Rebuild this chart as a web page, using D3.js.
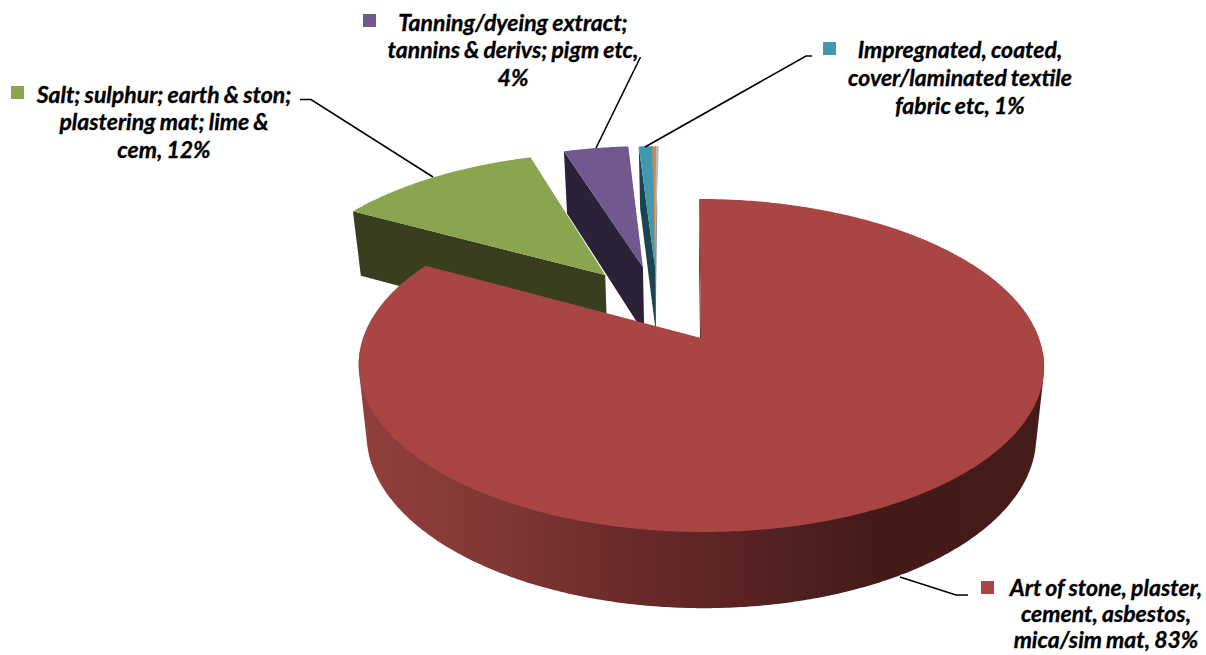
<!DOCTYPE html>
<html><head><meta charset="utf-8">
<script src="https://cdn.jsdelivr.net/npm/d3@7"></script>
<style>html,body{margin:0;padding:0;background:#fff;overflow:hidden}
text{font-family:Lato,"Open Sans",sans-serif;font-weight:700;font-style:italic;fill:#000;stroke:#000;stroke-width:.35px;word-spacing:-1px}</style>
</head><body><svg id="c" width="1206" height="655"></svg>
<script>
const categories=["Art of stone, plaster, cement, asbestos, mica/sim mat","Salt; sulphur; earth & ston; plastering mat; lime & cem","Tanning/dyeing extract; tannins & derivs; pigm etc","Impregnated, coated, cover/laminated textile fabric etc","Other A","Other B"];
const values=[83,12,3.8,0.8,0.25,0.15];
const topColors=["#A94543","#89A54E","#71588F","#4198AF","#DB843D","#A9BBDB"];
const wallColors=["#6b2c2a","#373F1F","#2B223A","#1A4450","#6a3a14","#8090a8"];
const explodeU=[0,-0.3,-0.182,-0.1435,-0.145,-0.145];
const explodeV=[0,0.4157,0.472,0.472,0.472,0.472];
const labelLines=[["Art of stone, plaster,","cement, asbestos,","mica/sim mat, 83%"],["Salt; sulphur; earth & ston;","plastering mat; lime &","cem, 12%"],["Tanning/dyeing extract;","tannins & derivs; pigm etc,","4%"],["Impregnated, coated,","cover/laminated textile","fabric etc, 1%"]];
const labelCenterX=[1106,164,513,960];
const labelY=[[588,614,640],[95,122,150],[23,50,78],[50,78,106]];
const keyPos=[[981,581],[11,86],[363,14],[823,42]];
const leaders=[[[900,577],[956,595],[968,595]],[[300,99.5],[311,99.5],[433,177]],[[640.5,57],[596,148]],[[812,56],[806,56],[645,147]]];

const svg=d3.select("#c");
const K=0.165,CX=701,S=-2.3,A=338,B=162,Y0=338,BOT_SCALE=0.977,BOT_B=168,BOT_Y=407;
const top3=(u,v)=>{const w=1+K*v;return [CX+(A*u+S*v)/w,Y0-B*v/w]};
const bot3=(u,v)=>{const w=1+K*v;return [CX+(A*BOT_SCALE*u+S*v)/w,BOT_Y-BOT_B*v/w]};
const line=d3.line();
const pie=d3.pie().sort(null).value(d=>d);
const arcs=pie(values);
const samples=(a0,a1)=>{const n=Math.max(2,Math.ceil((a1-a0)/0.01));return d3.range(n+1).map(i=>a0+(a1-a0)*i/n)};

const defs=svg.append("defs");
const grad=defs.append("linearGradient").attr("id","wall").attr("gradientUnits","userSpaceOnUse").attr("x1",360).attr("x2",1045).attr("y1",0).attr("y2",0);
[[0,"#923f3d"],[0.2,"#813735"],[0.38,"#6b2b2a"],[0.5,"#5f2625"],[0.64,"#502020"],[0.76,"#431a18"],[1,"#451c19"]].forEach(s=>grad.append("stop").attr("offset",s[0]).attr("stop-color",s[1]));

const order=[5,4,3,2,1,0];
order.forEach(i=>{
  const d=arcs[i],du=explodeU[i],dv=explodeV[i];
  const pt=(f,t)=>f(Math.sin(t)+du,Math.cos(t)+dv);
  const g=svg.append("g");
  if(i===0){
    const ts=samples(95*Math.PI/180,265*Math.PI/180);
    const hull=d3.polygonHull(ts.map(t=>pt(top3,t)).concat(ts.map(t=>pt(bot3,t))));
    g.append("path").attr("d",line(hull)+"Z").attr("fill","url(#wall)");
    g.append("path").attr("d",line([top3(du,dv),bot3(du,dv),pt(bot3,0),pt(top3,0)])+"Z").attr("fill","#5a2523");
  } else {
    const t=d.startAngle;
    const quad=[pt(top3,t),top3(du,dv),bot3(du,dv),pt(bot3,t)];
    g.append("path").attr("d",line(quad)+"Z").attr("fill",wallColors[i]);
  }
  const poly=[top3(du,dv)].concat(samples(d.startAngle,d.endAngle).map(t=>pt(top3,t)));
  g.append("path").attr("d",line(poly)+"Z").attr("fill",topColors[i]);
});

leaders.forEach(l=>svg.append("path").attr("d",line(l)).attr("fill","none").attr("stroke","#000").attr("stroke-width",1.6));
keyPos.forEach((p,i)=>svg.append("rect").attr("x",p[0]).attr("y",p[1]).attr("width",13).attr("height",13).attr("fill",topColors[i]));
labelLines.forEach((ls,i)=>ls.forEach((s,j)=>svg.append("text").attr("x",labelCenterX[i]).attr("y",labelY[i][j]).attr("dy","0.35em").attr("text-anchor","middle").attr("font-size",23).text(s)));
</script></body></html>
